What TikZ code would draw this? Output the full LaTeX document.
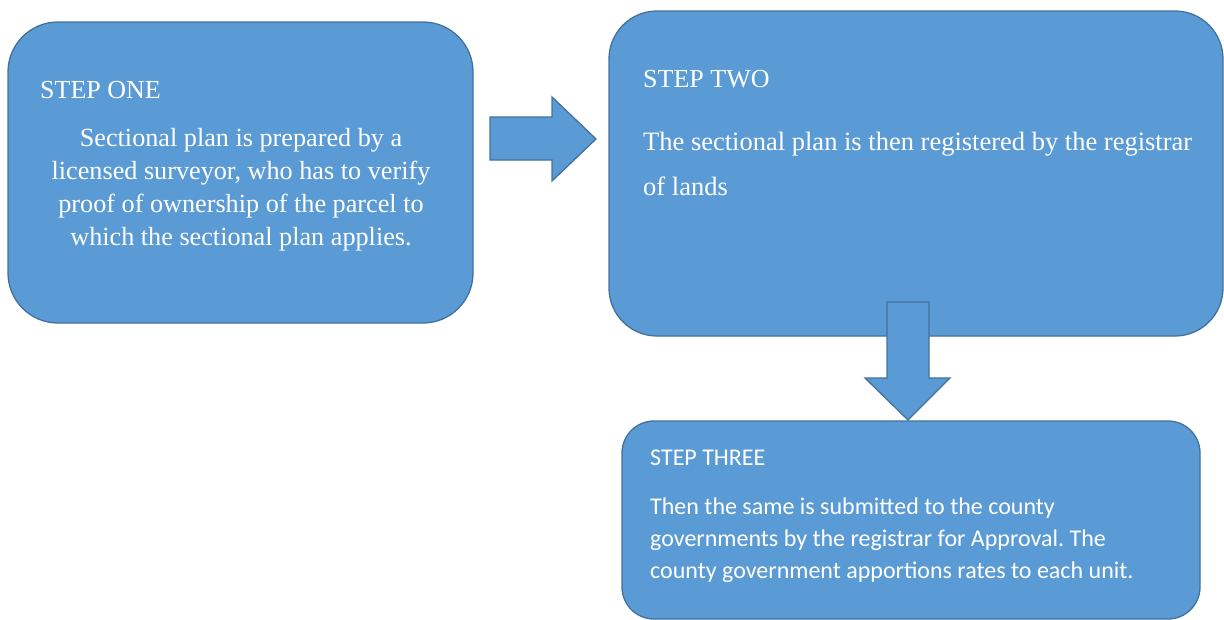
\documentclass[tikz,border=0pt]{standalone}
\usepackage{fontspec}
\setmainfont{Liberation Serif}
\newfontfamily\calibri{Carlito}
\frenchspacing

\definecolor{boxfill}{HTML}{5B9BD5}
\definecolor{boxline}{HTML}{41719C}

\tikzset{
  stepbox/.style={draw=boxline, fill=boxfill, line width=1.3pt, inner sep=0pt},
  blockarrow/.style={draw=boxline, fill=boxfill, line width=1.3pt, line join=miter},
  steptext/.style={text=white, inner sep=0pt}
}

\begin{document}
\begin{tikzpicture}[x=1pt,y=-1pt]
    \useasboundingbox (0,0) rectangle (1224,619);

    % the three boxes
    \node[stepbox, rounded corners=50pt, minimum width=465pt, minimum height=301pt] (one) at (240.5,172.5) {};
    \node[stepbox, rounded corners=48pt, minimum width=614pt, minimum height=325pt] (two) at (916,173.5) {};
    \node[stepbox, rounded corners=32pt, minimum width=578pt, minimum height=198pt] (three) at (911,520) {};

    % arrow from one to two
    \coordinate (r0) at (490,117);
    \coordinate (r1) at (552,160);
    \coordinate (rtip) at (596,139);
    \draw[blockarrow] (r0) -- (r0 -| r1) -- (552,97) -- (rtip) -- (552,181) -- (r1) -- (r0 |- r1) -- cycle;

    % arrow from two down to three
    \coordinate (d0) at (887,302);
    \coordinate (d1) at (929,378);
    \coordinate (dtip) at (908,420);
    \draw[blockarrow] (d0) -- (d0 -| d1) -- (d1) -- (950,378) -- (dtip) -- (865,378) -- (d0 |- d1) -- cycle;

    % texts (base of a multi-line node is its last line)
    \node[steptext, anchor=base west, font=\fontsize{26}{33}\selectfont] (oneH) at (40,98) {STEP ONE};
    \node[steptext, anchor=base, align=center, font=\fontsize{26.2}{32.7}\selectfont] (oneB) at (241,245)
        {Sectional plan is prepared by a\\ licensed surveyor, who has to verify\\ proof of ownership of the parcel to\\ which the sectional plan applies.};

    \node[steptext, anchor=base west, font=\fontsize{26}{33}\selectfont] (twoH) at (643,87) {STEP TWO};
    \node[steptext, anchor=base west, align=left, font=\fontsize{26.5}{45}\selectfont] (twoB) at (643,195)
        {The sectional plan is then registered by the registrar\\ of lands};

    \node[steptext, anchor=base west, font=\calibri\fontsize{24}{32}\selectfont] (threeH) at (650,465) {STEP THREE};
    \node[steptext, anchor=base west, align=left, font=\calibri\fontsize{24}{32}\selectfont] (threeB) at (650,578)
        {Then the same is submitted to the county\\ governments by the registrar for Approval. The\\ county government apportions rates to each unit.};
\end{tikzpicture}
\end{document}
